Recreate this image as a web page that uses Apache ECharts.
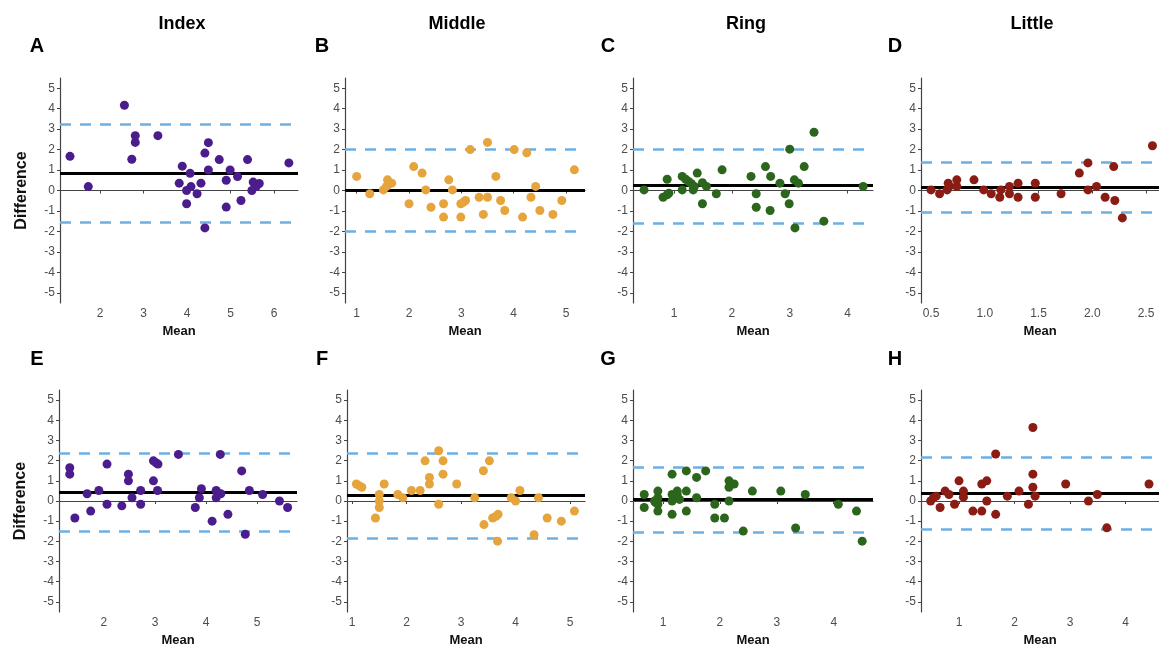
<!doctype html>
<html lang="en">
<head>
<meta charset="UTF-8">
<title>Bland-Altman by finger</title>
<style>
html, body { margin: 0; padding: 0; background: #fff; }
#chart { width: 1159px; height: 648px; }
</style>
</head>
<body>
<div id="chart"></div>
<script src="https://cdn.jsdelivr.net/npm/echarts@6/dist/echarts.min.js"></script>
<script>
// column headings and panel letters
var fingers = ["Index", "Middle", "Ring", "Little"];
var panelLetters = ["A", "B", "C", "D", "E", "F", "G", "H"];

// [mean, difference] per panel
var ptsA = [[1.31,1.67],[1.73,0.19],[2.56,4.17],[2.73,1.53],[2.81,2.35],[2.81,2.68],[3.33,2.68],[3.82,0.36],[3.89,1.19],[3.99,0.0],[3.99,-0.65],[4.07,0.84],[4.09,0.19],[4.23,-0.16],[4.32,0.36],[4.41,1.83],[4.41,-1.83],[4.49,2.34],[4.49,1.0],[4.74,1.51],[4.9,0.5],[4.9,-0.81],[4.99,1.0],[5.16,0.68],[5.24,-0.49],[5.39,1.51],[5.49,0.0],[5.52,0.41],[5.59,0.19],[5.66,0.34],[6.34,1.35]];
var ptsB = [[1.0,0.69],[1.25,-0.16],[1.51,0.03],[1.59,0.52],[1.62,0.33],[1.67,0.36],[1.57,0.2],[2.0,-0.65],[2.09,1.17],[2.25,0.85],[2.32,0.03],[2.42,-0.82],[2.66,-0.65],[2.66,-1.3],[2.76,0.52],[2.83,0.03],[2.99,-0.65],[2.99,-1.3],[3.04,-0.57],[3.08,-0.49],[3.17,2.0],[3.34,-0.33],[3.42,-1.17],[3.5,2.35],[3.5,-0.33],[3.66,0.69],[3.75,-0.49],[3.83,-0.98],[4.01,2.0],[4.17,-1.3],[4.25,1.84],[4.33,-0.33],[4.42,0.2],[4.5,-0.98],[4.75,-1.17],[4.92,-0.49],[5.16,1.01]];
var ptsC = [[0.48,0.03],[0.81,-0.33],[0.88,0.55],[0.88,-0.21],[0.91,-0.13],[1.14,0.69],[1.14,0.03],[1.2,0.55],[1.25,0.44],[1.3,0.33],[1.33,0.03],[1.35,0.2],[1.4,0.85],[1.49,-0.65],[1.49,0.38],[1.56,0.2],[1.73,-0.16],[1.83,1.01],[2.33,0.69],[2.42,-0.16],[2.42,-0.82],[2.58,1.17],[2.66,-0.98],[2.67,0.69],[2.83,0.36],[2.92,-0.16],[2.99,-0.65],[3.0,2.02],[3.08,0.52],[3.09,-1.83],[3.15,0.36],[3.25,1.17],[3.42,2.85],[3.59,-1.5],[4.27,0.2]];
var ptsD = [[0.5,0.03],[0.58,-0.16],[0.65,0.03],[0.66,0.36],[0.67,0.2],[0.74,0.52],[0.74,0.2],[0.9,0.52],[0.99,0.03],[1.06,-0.16],[1.14,-0.33],[1.15,0.03],[1.23,0.2],[1.23,-0.16],[1.31,0.36],[1.31,-0.33],[1.47,0.36],[1.47,-0.33],[1.71,-0.16],[1.88,0.85],[1.96,1.35],[1.96,0.03],[2.04,0.2],[2.12,-0.33],[2.2,1.17],[2.21,-0.49],[2.28,-1.34],[2.56,2.19]];
var ptsE = [[1.33,1.65],[1.33,1.33],[1.43,-0.84],[1.67,0.36],[1.74,-0.5],[1.9,0.52],[2.06,1.83],[2.06,-0.16],[2.35,-0.24],[2.48,1.33],[2.48,1.0],[2.55,0.16],[2.72,0.52],[2.72,-0.16],[2.97,1.99],[3.02,1.89],[3.06,1.83],[2.97,1.0],[3.05,0.52],[3.46,2.31],[3.79,-0.32],[3.87,0.16],[3.91,0.61],[4.12,-1.0],[4.2,0.52],[4.2,0.16],[4.25,0.36],[4.29,0.36],[4.28,2.31],[4.43,-0.66],[4.7,1.49],[4.77,-1.65],[4.85,0.52],[5.11,0.32],[5.44,0.0],[5.6,-0.32]];
var ptsF = [[1.08,0.84],[1.13,0.76],[1.18,0.68],[1.43,-0.84],[1.5,0.32],[1.5,0.0],[1.5,-0.32],[1.59,0.84],[1.84,0.32],[1.93,0.16],[2.09,0.52],[2.25,0.52],[2.34,1.99],[2.42,1.17],[2.42,0.84],[2.59,2.49],[2.59,-0.16],[2.67,1.99],[2.67,1.33],[2.92,0.84],[3.25,0.16],[3.41,1.5],[3.42,-1.17],[3.52,1.99],[3.58,-0.84],[3.64,-0.76],[3.68,-0.66],[3.67,-1.99],[3.92,0.16],[4.0,0.0],[4.08,0.52],[4.34,-1.67],[4.42,0.16],[4.58,-0.84],[4.84,-1.0],[5.08,-0.5]];
var ptsG = [[0.67,0.32],[0.67,-0.32],[0.85,0.0],[0.91,0.49],[0.91,0.16],[0.91,-0.16],[0.91,-0.5],[0.87,-0.08],[1.16,1.33],[1.16,0.32],[1.16,0.0],[1.16,-0.66],[1.21,0.16],[1.25,0.49],[1.25,0.32],[1.29,0.08],[1.41,1.49],[1.41,0.49],[1.41,-0.5],[1.59,1.17],[1.59,0.16],[1.75,1.49],[1.91,-0.16],[1.91,-0.84],[2.08,-0.84],[2.16,1.0],[2.16,0.68],[2.16,0.0],[2.25,0.84],[2.41,-1.49],[2.57,0.49],[3.07,0.49],[3.33,-1.34],[3.5,0.32],[4.08,-0.16],[4.4,-0.5],[4.5,-1.99]];
var ptsH = [[0.49,0.0],[0.54,0.16],[0.59,0.24],[0.66,-0.32],[0.75,0.49],[0.82,0.32],[0.92,-0.16],[1.0,1.0],[1.08,0.49],[1.08,0.19],[1.25,-0.5],[1.41,0.84],[1.41,-0.5],[1.5,1.0],[1.5,0.0],[1.66,2.33],[1.66,-0.66],[1.87,0.24],[2.08,0.49],[2.25,-0.16],[2.33,3.64],[2.33,1.33],[2.33,0.68],[2.37,0.24],[2.92,0.84],[3.33,0.0],[3.49,0.32],[3.66,-1.33],[4.42,0.84]];

// mean difference and limits of agreement, panels A..H
var bias = [0.86, 0.03, 0.24, 0.16, 0.45, 0.28, 0.08, 0.36];
var upperLoA = [3.26, 2.0, 2.04, 1.39, 2.39, 2.36, 1.67, 2.17];
var lowerLoA = [-1.55, -1.99, -1.58, -1.06, -1.49, -1.83, -1.54, -1.41];

// tick labels
var xTicksA = [2, 3, 4, 5, 6];
var xTicksB = [1, 2, 3, 4, 5];
var xTicksC = [1, 2, 3, 4];
var xTicksD = [0.5, 1.0, 1.5, 2.0, 2.5];
var xTicksE = [2, 3, 4, 5];
var xTicksF = [1, 2, 3, 4, 5];
var xTicksG = [1, 2, 3, 4];
var xTicksH = [1, 2, 3, 4];
var yTicks = [-5, -4, -3, -2, -1, 0, 1, 2, 3, 4, 5];

var allPts = [ptsA, ptsB, ptsC, ptsD, ptsE, ptsF, ptsG, ptsH];
var allXTicks = [xTicksA, xTicksB, xTicksC, xTicksD, xTicksE, xTicksF, xTicksG, xTicksH];

// layout
var dotColors = ["#4b1d8c", "#e6a43c", "#2c661d", "#8a1c14"];
var gridLeft = [60, 345, 633, 921, 59, 347, 633, 921];
var gridWidth = [238, 240, 240, 238, 238, 238, 240, 238];
var xMin = [1.08, 0.777, 0.289, 0.407, 1.119, 0.908, 0.473, 0.316];
var xMax = [6.55, 5.363, 4.44, 2.621, 5.784, 5.274, 4.69, 4.6];
var rowTop = [78, 390];
var rowHeight = [225, 227];
var titleX = [182, 457, 746, 1032];
var letterX = [37, 322, 608, 895];
var letterY = [46, 359];

var font = "'Liberation Sans', Arial, sans-serif";
var chart = echarts.init(document.getElementById('chart'));

var grids = [], xAxes = [], yAxes = [], series = [], graphics = [];

for (var i = 0; i < 8; i++) {
    var row = i < 4 ? 0 : 1;
    var col = i % 4;
    grids.push({
        left: gridLeft[i], top: rowTop[row],
        width: gridWidth[i], height: rowHeight[row]
    });
    xAxes.push({
        gridIndex: i, type: 'value', min: xMin[i], max: xMax[i],
        name: 'Mean', nameLocation: 'middle', nameGap: 22,
        nameTextStyle: { fontFamily: font, fontSize: 13, fontWeight: 'bold', color: '#111' },
        axisLine: { lineStyle: { color: '#444', width: 1.2 } },
        axisTick: { show: true, length: 3, lineStyle: { color: '#444' }, customValues: allXTicks[i] },
        axisLabel: {
            fontFamily: font, fontSize: 12, color: '#4d4d4d', margin: 5,
            customValues: allXTicks[i],
            formatter: col === 3 && row === 0 ? function (v) { return v.toFixed(1); } : function (v) { return String(v); }
        },
        splitLine: { show: false }
    });
    yAxes.push({
        gridIndex: i, type: 'value', min: -5.5, max: 5.5,
        name: col === 0 ? 'Difference' : '', nameLocation: 'middle', nameGap: 30, nameRotate: 90,
        nameTextStyle: { fontFamily: font, fontSize: 16, fontWeight: 'bold', color: '#111' },
        axisLine: { show: true, lineStyle: { color: '#444', width: 1.2 } },
        axisTick: { show: true, length: 3, lineStyle: { color: '#444' }, customValues: yTicks },
        axisLabel: { fontFamily: font, fontSize: 12, color: '#4d4d4d', margin: 5, customValues: yTicks },
        splitLine: { show: false }
    });
    // reference lines (kept under the dots)
    series.push({
        type: 'scatter', xAxisIndex: i, yAxisIndex: i, data: [], z: 1,
        silent: true,
        markLine: {
            z: 1, silent: true, symbol: 'none', label: { show: false },
            animation: false,
            data: [
                { yAxis: upperLoA[i], lineStyle: { color: '#6cb0e2', width: 2.6, type: [11, 9] } },
                { yAxis: lowerLoA[i], lineStyle: { color: '#6cb0e2', width: 2.6, type: [11, 9] } },
                { yAxis: bias[i], lineStyle: { color: '#000', width: 3, type: 'solid' } }
            ]
        }
    });
    series.push({
        type: 'scatter', xAxisIndex: i, yAxisIndex: i, z: 6,
        symbolSize: 9,
        itemStyle: { color: dotColors[col], opacity: 1 },
        data: allPts[i]
    });
    graphics.push({
        type: 'text', x: letterX[col], y: letterY[row],
        style: { text: panelLetters[i], font: 'bold 20px ' + font, fill: '#000', textAlign: 'center', textVerticalAlign: 'middle' }
    });
}
for (var c = 0; c < 4; c++) {
    graphics.push({
        type: 'text', x: titleX[c], y: 24,
        style: { text: fingers[c], font: 'bold 18px ' + font, fill: '#000', textAlign: 'center', textVerticalAlign: 'middle' }
    });
}

chart.setOption({
    animation: false,
    backgroundColor: '#fff',
    grid: grids,
    xAxis: xAxes,
    yAxis: yAxes,
    series: series,
    graphic: graphics
});
</script>
</body>
</html>
